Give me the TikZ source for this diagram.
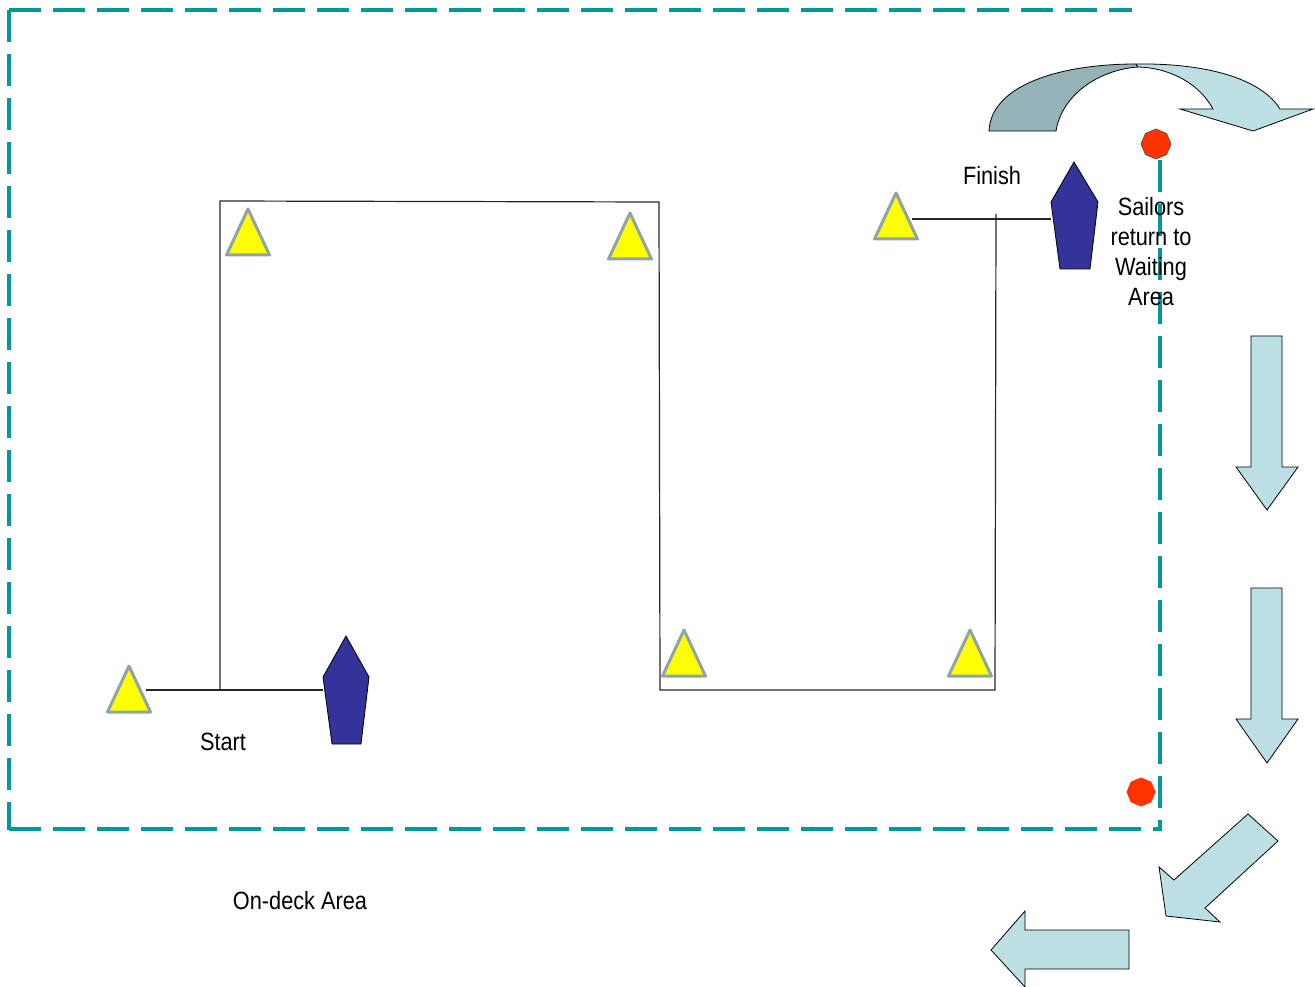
\documentclass[tikz,border=0pt]{standalone}
\usepackage{fontspec}
\setmainfont{Liberation Sans}
\usetikzlibrary{shapes.geometric}
\definecolor{teal}{HTML}{009999}
\definecolor{markfill}{HTML}{FFFF00}
\definecolor{markline}{HTML}{8FA3A8}
\definecolor{boatblue}{HTML}{333399}
\definecolor{stopred}{HTML}{FF3300}
\definecolor{arrowlight}{HTML}{BBDFE3}
\definecolor{arrowdark}{HTML}{95B3B7}
\newcommand{\nrw}[1]{\scalebox{0.87}[1]{#1}}
\tikzset{
  zone/.style={draw=teal, line width=4pt, dash pattern=on 32pt off 12pt},
  course/.style={draw=black!85, line width=1.2pt},
  markbuoy/.style={fill=markfill, draw=markline, line width=3pt, line join=round},
  boat/.style={fill=boatblue, draw=black, line width=0.8pt},
  stopsign/.style={regular polygon, regular polygon sides=8, shape border rotate=22.5, minimum size=30pt, inner sep=0pt, fill=stopred, draw=black!70, line width=0.6pt},
  flow/.style={fill=arrowlight, draw=black, line width=0.8pt, line join=miter},
  lbl/.style={font=\fontsize{25}{30}\selectfont, inner sep=0pt, align=center}
}
\begin{document}
\begin{tikzpicture}[x=1pt,y=-1pt]
\useasboundingbox (0,0) rectangle (1315,987);
% octagons
\node[stopsign] (stopTop) at (1156,144) {};
\node[stopsign, minimum size=29pt, draw=none] (stopBot) at (1141,792) {};
% zone boundary
\coordinate (zTop) at (1160,160);
\coordinate (zCorner) at (1160,829);
\draw[zone] (9,10) -- (1132,10);
\draw[zone] (9,10) -- (9,830);
\draw[zone] (9,829) -- (1162,829);
\draw[zone] (zTop) -- (zCorner);
% course line
\coordinate (sL) at (146,690);
\coordinate (sR) at (323,690);
\coordinate (c1) at (220,690);
\coordinate (c2) at (220,201);
\coordinate (c3) at (659,202);
\coordinate (c4) at (660,690);
\coordinate (c5) at (995,690);
\coordinate (c6) at (996,214);
\coordinate (fL) at (912,219);
\coordinate (fR) at (1051,219);
\draw[course] (sL) -- (sR);
\draw[course] (c1) -- (c2) -- (c3) -- (c4) -- (c5) -- (c6);
\draw[course] (fL) -- (fR);
% marks
\foreach \x/\y in {129/666, 248/209, 630/213, 684/630, 970/630, 896/193}{
  \path[markbuoy] (\x,\y) -- (\x+21.5,\y+46) -- (\x-21.5,\y+46) -- cycle;
}
% boats
\path[boat] (346,636) -- (369,677) -- (361,744) -- (332,744) -- (323,677) -- cycle;
\path[boat] (1074,162) -- (1098,202) -- (1090,269) -- (1060,269) -- (1051,202) -- cycle;
% labels
\node[lbl] (finish) at (992,176) {\nrw{Finish}};
\node[lbl] (start) at (223,742) {\nrw{Start}};
\node[lbl] (ondeck) at (300,901) {\nrw{On-deck Area}};
\node[lbl] (sailors) at (1151,252) {\nrw{Sailors}\\\nrw{return to}\\\nrw{Waiting}\\\nrw{Area}};
% curved arrow
\path[fill=arrowdark, draw=black, line width=0.8pt]
  (989,131) .. controls (991,85) and (1060,64) .. (1136,64)
  -- (1138,67) .. controls (1098,70) and (1062,95) .. (1056,131) -- cycle;
\path[flow]
  (1136,64) .. controls (1210,63) and (1262,80) .. (1280,109)
  -- (1313,109) -- (1253,131) -- (1180,109) -- (1213,109)
  .. controls (1200,85) and (1172,68) .. (1138,67) -- cycle;
% down arrows
\path[flow] (1251,336) -- (1282,336) -- (1282,467) -- (1298,467) -- (1267,510) -- (1236,467) -- (1251,467) -- cycle;
\path[flow] (1251,588) -- (1282,588) -- (1282,719) -- (1298,719) -- (1267,763) -- (1236,719) -- (1251,719) -- cycle;
% diagonal arrow
\path[flow] (1248,814) -- (1278,841) -- (1205,908) -- (1220,922) -- (1166,916) -- (1159,867) -- (1174,880) -- cycle;
% left arrow
\path[flow] (1129,930) -- (1129,969) -- (1025,969) -- (1025,987) -- (991,950) -- (1025,911) -- (1025,930) -- cycle;
\end{tikzpicture}
\end{document}
